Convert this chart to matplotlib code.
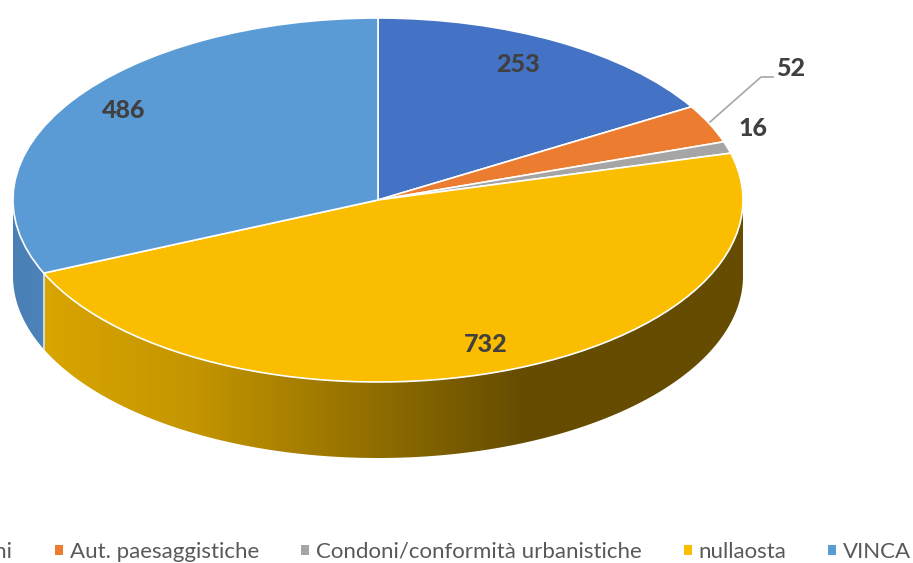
import numpy as np
import matplotlib
matplotlib.use('Agg')
import matplotlib.pyplot as plt
from matplotlib.patches import Polygon

plt.rcParams['font.family'] = ['Lato', 'DejaVu Sans']

labels = ['Autorizzazioni', 'Aut. paesaggistiche', 'Condoni/conformità urbanistiche', 'nullaosta', 'VINCA']
values = [253, 52, 16, 732, 486]
colors = ['#4472C4', '#EB7C30', '#A5A5A5', '#FBBD00', '#5B9BD5']

W, H = 913, 563
cx, cy, rx, ry, depth = 378, 200, 365, 182, 76


def to_xy(px, py):
    return (px - cx) / rx, (cy - py) / ry


fig = plt.figure(figsize=(W / 100, H / 100), dpi=100)
ax = fig.add_axes([0, 0, 1, 1])

wedges, _ = ax.pie(values, colors=colors, startangle=90, counterclock=False,
                   wedgeprops={'edgecolor': 'white', 'linewidth': 1.2, 'zorder': 5})
ax.set_aspect('auto')
x0, y0 = to_xy(0, H)
x1, y1 = to_xy(W, 0)
ax.axis('off')

# walls of the 3D look, only the front half of the pie shows them
d = depth / ry
walls = {3: (['#DDA800', '#C49500', '#8F6D00', '#654C00', '#654C00'], [-1, -0.5, 0.0, 0.4, 1]),
         4: (['#4A80B5', '#4F86BC'], [-1, -0.8])}
for i, (cols, stops) in walls.items():
    t1, t2 = wedges[i].theta1, wedges[i].theta2
    t = np.radians(np.linspace(t1, t2, 400))
    t = t[np.sin(t) < 0]
    xs = np.cos(t)
    ys = np.sin(t)
    poly = np.r_[np.c_[xs, ys], np.c_[xs[::-1], ys[::-1] - d]]
    rgb = np.array([matplotlib.colors.to_rgb(c) for c in cols])
    gx = np.linspace(-1, 1, 800)
    grad = np.stack([np.interp(gx, stops, rgb[:, k]) for k in range(3)], axis=-1)[None, :, :]
    im = ax.imshow(grad, extent=[-1, 1, -2, 0.5], aspect='auto', zorder=2)
    im.set_clip_path(Polygon(poly, transform=ax.transData))
ax.set_xlim(x0, x1)
ax.set_ylim(y0, y1)

# white seam on the slice boundary
seam = np.radians(wedges[3].theta1 if np.sin(np.radians(wedges[3].theta1)) < 0 else wedges[3].theta2)
ax.plot([np.cos(seam)] * 2, [np.sin(seam), np.sin(seam) - d], color='#DCE6F0', lw=1.2, zorder=3)

label_px = [(518, 65), (791, 69), (753, 129), (486, 345), (124, 110)]
for v, (px, py) in zip(values, label_px):
    x, y = to_xy(px, py)
    ax.text(x, y, str(v), ha='center', va='center', fontsize=18, fontweight='black',
            color='#404040', zorder=8)

lx, ly = zip(*[to_xy(*p) for p in [(710, 122), (761, 77), (773, 77)]])
ax.plot(lx, ly, color='#A6A6A6', lw=1.2, zorder=6)

leg = fig.legend(wedges, labels, ncol=5, loc='center left', bbox_to_anchor=(-141 / W, 1 - 552 / H),
                 frameon=False, fontsize=16, labelcolor='#595959', handlelength=0.36,
                 handleheight=0.36, handletextpad=0.3, columnspacing=1.9, borderpad=0, borderaxespad=0)
for h in leg.legend_handles:
    h.set_edgecolor('none')

fig.savefig('out.png', dpi=100)
